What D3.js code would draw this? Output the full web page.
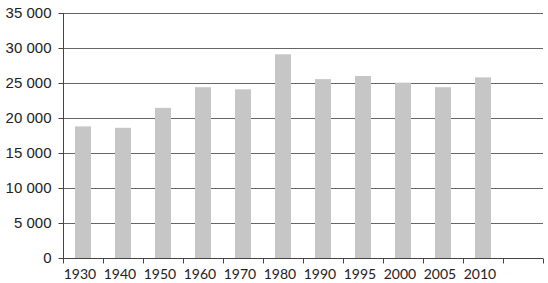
<!DOCTYPE html>
<html>
<head>
<meta charset="utf-8">
<script src="https://cdn.jsdelivr.net/npm/d3@7"></script>
<style>
  body { margin: 0; background: #fff; }
  svg { display: block; font-family: Lato, "Open Sans", sans-serif; }
</style>
</head>
<body>
<script>
// years shown on the x axis (last slot stays empty)
const years = ["1930", "1940", "1950", "1960", "1970", "1980", "1990", "1995", "2000", "2005", "2010", ""];
const values = [18800, 18600, 21450, 24400, 24100, 29100, 25550, 26000, 25050, 24400, 25800];
const yTicks = [0, 5000, 10000, 15000, 20000, 25000, 30000, 35000];

const width = 548;
const height = 283;
const marginTop = 13;
const marginRight = 5;
const marginBottom = 25;
const marginLeft = 63;

const x = d3.scaleBand()
    .domain(years)
    .range([marginLeft, width - marginRight])
    .paddingInner(0.6)
    .paddingOuter(0.3);

// band edges for the tick marks (ticks sit between categories)
const step = (width - marginRight - marginLeft) / years.length;

const y = d3.scaleLinear()
    .domain([0, 35000])
    .range([height - marginBottom, marginTop]);

const fmt = d => d3.format(",")(d).replace(",", " ");

const svg = d3.select("body")
  .append("svg")
    .attr("width", width)
    .attr("height", height)
    .attr("viewBox", [0, 0, width, height]);

// horizontal grid lines
svg.append("g")
    .attr("stroke", "#666")
    .attr("stroke-width", 1)
  .selectAll()
  .data(yTicks.filter(d => d > 0))
  .join("line")
    .attr("x1", marginLeft)
    .attr("x2", width - marginRight)
    .attr("y1", d => Math.round(y(d)) + 0.5)
    .attr("y2", d => Math.round(y(d)) + 0.5);

// bars
svg.append("g")
    .attr("fill", "#c6c6c6")
  .selectAll()
  .data(values)
  .join("rect")
    .attr("x", (d, i) => x(years[i]))
    .attr("y", d => y(d))
    .attr("width", x.bandwidth())
    .attr("height", d => y(0) - y(d));

// y axis
svg.append("g")
    .attr("transform", `translate(${marginLeft + 0.5},0)`)
    .call(d3.axisLeft(y).tickValues(yTicks).tickFormat(fmt).tickSize(5).tickPadding(7))
    .call(g => g.select(".domain").attr("stroke", "#444").attr("d", `M0,${y(35000)}V${y(0)}`))
    .call(g => g.selectAll(".tick line").attr("stroke", "#444"))
    .call(g => g.selectAll(".tick text")
        .attr("font-size", 15)
        .attr("fill", "#222"));

// x axis: ticks at the band boundaries, labels under each band
const xAxis = svg.append("g")
    .attr("transform", `translate(0,${Math.round(y(0)) + 0.5})`);

xAxis.append("line")
    .attr("x1", marginLeft)
    .attr("x2", width - marginRight)
    .attr("stroke", "#444");

xAxis.selectAll(".edge")
  .data(d3.range(years.length + 1))
  .join("line")
    .attr("x1", i => Math.round(marginLeft + i * step) + 0.5)
    .attr("x2", i => Math.round(marginLeft + i * step) + 0.5)
    .attr("y1", 0)
    .attr("y2", 5)
    .attr("stroke", "#444");

xAxis.selectAll("text")
  .data(years.filter(d => d))
  .join("text")
    .attr("x", d => x(d) + x.bandwidth() / 2 - 3)
    .attr("y", 20)
    .attr("text-anchor", "middle")
    .attr("font-size", 14)
    .attr("fill", "#222")
    .text(d => d);
</script>
</body>
</html>
